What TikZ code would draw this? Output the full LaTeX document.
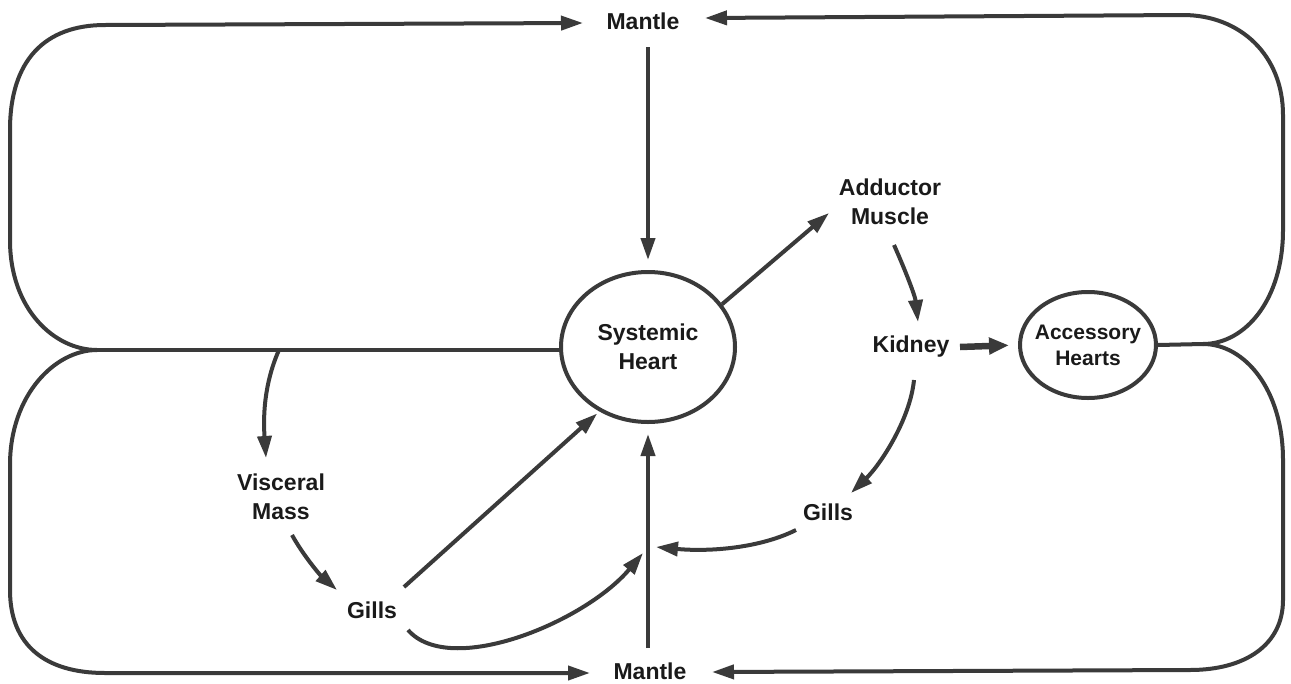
\documentclass[tikz,border=0pt]{standalone}
\usepackage{fontspec}
\setmainfont{Liberation Sans}
\usetikzlibrary{arrows.meta,shapes.geometric,calc}
\definecolor{ln}{HTML}{3A3A3A}
\definecolor{tx}{HTML}{1A1A1A}
\begin{document}
\begin{tikzpicture}[x=1pt,y=-1pt,
  lbl/.style={font=\fontsize{23}{29}\selectfont\bfseries, text=tx, inner sep=0pt, align=center},
  sml/.style={font=\fontsize{21}{26}\selectfont\bfseries, text=tx, inner sep=0pt, align=center},
  oval/.style={draw=ln, line width=4pt, ellipse, inner sep=0pt},
  wire/.style={draw=ln, line width=4pt},
  arr/.style={wire, -{Triangle[length=22pt,width=14pt]}},
  fat/.style={draw=ln, line width=6.5pt, -{Triangle[length=20pt,width=16pt]}}
]
\useasboundingbox (0,0) rectangle (1291,683);
\fill[white] (0,0) rectangle (1291,683);

% nodes
\node[lbl] (mtop) at (643,21) {Mantle};
\node[lbl] (mbot) at (650,671) {Mantle};
\node[oval, lbl, minimum width=174pt, minimum height=150pt] (heart) at (648,347) {Systemic\\Heart};
\node[lbl] (add) at (890,202) {Adductor\\Muscle};
\node[lbl] (kid) at (911,347) {Kidney};
\node[oval, sml, minimum width=136pt, minimum height=106pt] (acc) at (1088,345) {\makebox[0pt]{Accessory}\\\makebox[0pt]{Hearts}};
\node[lbl] (visc) at (281,497) {Visceral\\Mass};
\node[lbl] (gl) at (372,610) {Gills};
\node[lbl] (gr) at (828,512) {Gills};

\coordinate (jl) at (97,350);
\coordinate (jv) at (279,350);
\coordinate (jr) at (1203,344);
\coordinate (ml) at (643,553);
\coordinate (mr) at (656,547);

% left double loop
\draw[wire] (jl -| heart.west) -- (jl);
\draw[arr] (jl) .. controls (55,350) and (10,310) .. (10,240) -- (10,130)
  .. controls (10,60) and (45,25) .. (105,25) -- ($(mtop)+(-60,2)$);
\draw[arr] (jl) .. controls (55,350) and (10,395) .. (10,465) -- (10,590)
  .. controls (10,645) and (45,673) .. (105,673) -- ($(mbot)+(-60,2)$);

% right double loop
\draw[wire] (acc.east) -- (jr);
\draw[arr] (jr) .. controls (1245,344) and (1283,300) .. (1283,230) -- (1283,115)
  .. controls (1283,55) and (1240,15) .. (1183,15) -- ($(mtop)+(62,-3)$);
\draw[arr] (jr) .. controls (1245,344) and (1283,390) .. (1283,460) -- (1283,600)
  .. controls (1283,645) and (1245,670) .. (1190,670) -- ($(mbot)+(62,1)$);

% mantle to heart
\draw[arr, shorten >=10pt] ($(heart.north |- mtop)+(0,26)$) -- (heart.north);
\draw[arr, shorten >=10pt] ($(heart.south |- mbot)+(0,-23)$) -- (heart.south);

% heart to adductor, adductor to kidney
\draw[arr] (heart.30) -- ($(add)+(-61,11)$);
\draw[arr] ($(add)+(4,43)$) .. controls (903,265) and (915,295) .. ($(kid)+(7,-25)$);

% kidney
\draw[fat, shorten >=9pt] ($(kid)+(49,0)$) -- (acc.west);
\draw[arr] ($(kid)+(3,33)$) .. controls (910,420) and (880,465) .. ($(gr)+(23,-19)$);
\draw[arr] ($(gr)+(-32,18)$) .. controls (760,548) and (710,552) .. (mr);

% left branch
\draw[arr] (jv) .. controls (270,370) and (262,400) .. ($(visc)+(-15,-39)$);
\draw[arr] ($(visc)+(11,38)$) .. controls (303,555) and (320,575) .. ($(gl)+(-35,-20)$);
\draw[arr, shorten >=3pt] ($(gl)+(32,-23)$) -- (heart.233);
\draw[arr] ($(gl)+(36,20)$) .. controls (450,678) and (585,622) .. (ml);
\end{tikzpicture}
\end{document}
